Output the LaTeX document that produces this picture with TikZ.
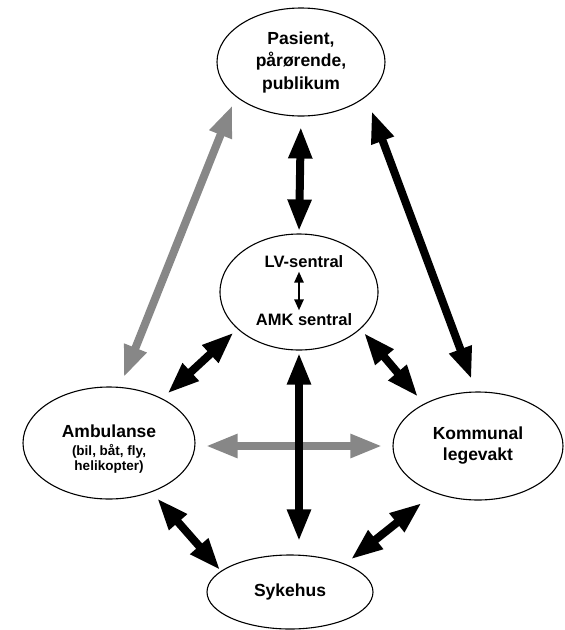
\documentclass[tikz,border=0pt]{standalone}
\usepackage{fontspec}
\setmainfont{Liberation Sans}
\usetikzlibrary{shapes.geometric,arrows.meta}
\tikzset{
  place/.style={ellipse, draw, line width=1.1pt, inner sep=0pt, align=center,
    font=\bfseries\fontsize{17.5}{22.5}\selectfont},
  dbl/.style={line width=8pt, {Triangle[length=32pt,width=22pt]}-{Triangle[length=32pt,width=22pt]}},
  grey/.style={dbl, draw=black!47},
  thin dbl/.style={line width=2.5pt, {Triangle[length=11pt,width=9pt]}-{Triangle[length=11pt,width=9pt]}},
}
\begin{document}
\begin{tikzpicture}[x=1pt,y=-1pt]
    \useasboundingbox (0,0) rectangle (565,630);
    % places
    \node[place, minimum width=168pt, minimum height=108pt] (pas) at (301,62) {Pasient,\\pårørende,\\publikum};
    \node[place, minimum width=158pt, minimum height=116pt] (lv) at (299,292) {};
    \node[font=\bfseries\fontsize{16.5}{18}\selectfont] (lvs) at (304,262) {LV-sentral};
    \node[font=\bfseries\fontsize{16.5}{18}\selectfont] (amk) at (304,320) {AMK sentral};
    \node[place, minimum width=172pt, minimum height=112pt, font=\bfseries\fontsize{17.5}{15}\selectfont] (amb) at (109,443)
        {\rule{0pt}{24pt}Ambulanse\\[3pt]{\fontsize{13.5}{15}\selectfont (bil, båt, fly,}\\{\fontsize{13.5}{15}\selectfont helikopter)}};
    \node[place, minimum width=170pt, minimum height=108pt, font=\bfseries\fontsize{17.5}{21}\selectfont] (kom) at (478,446) {Kommunal\\legevakt};
    \node[place, minimum width=166pt, minimum height=74pt] (syk) at (290,592) {Sykehus};
    % grey links
    \draw[grey, shorten <=9pt, shorten >=10pt] (pas.208) -- (amb.79);
    \draw[grey, shorten <=10pt, shorten >=10pt] (amb.east |- kom.west) -- (kom.west);
    % black links
    \draw[dbl, shorten <=10pt, shorten >=2pt] (pas.south) -- (lv.north);
    \draw[dbl, shorten <=15pt, shorten >=13pt] (pas.332) -- (kom.92);
    \draw[dbl, shorten <=5pt, shorten >=7pt] (lv.211) -- (amb.40);
    \draw[dbl, shorten <=5pt, shorten >=9pt] (lv.329) -- (kom.142);
    \draw[dbl, shorten <=2pt, shorten >=13pt] (lv.south) -- (lv.south |- syk.north);
    \draw[dbl, shorten <=8pt, shorten >=1pt] (amb.311) -- (syk.163);
    \draw[dbl, shorten <=16pt, shorten >=7pt] (kom.227) -- (syk.27);
    % inside the centre
    \draw[thin dbl] (lv.center |- lvs.south) -- (lv.center |- amk.north);
\end{tikzpicture}
\end{document}
